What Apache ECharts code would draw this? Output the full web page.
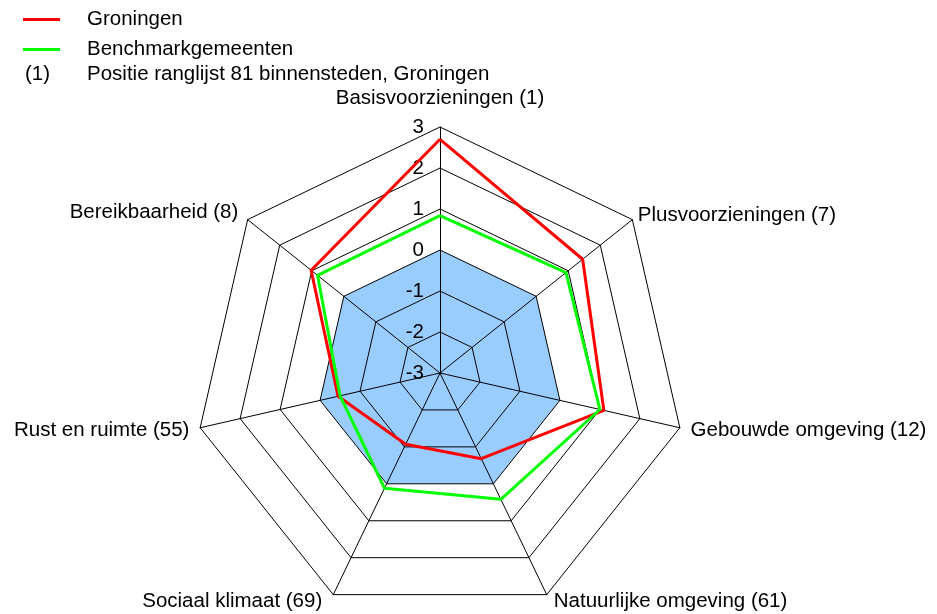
<!DOCTYPE html>
<html>
<head>
<meta charset="utf-8">
<script src="https://cdn.jsdelivr.net/npm/echarts@6/dist/echarts.min.js"></script>
<style>
  html, body { margin: 0; padding: 0; background: #fff; }
  #chart { width: 937px; height: 614px; }
</style>
</head>
<body>
<div id="chart"></div>
<script>
// indicators in clockwise order from the top (with ranking position)
const indicatorNames = [
  'Basisvoorzieningen (1)',
  'Plusvoorzieningen (7)',
  'Gebouwde omgeving (12)',
  'Natuurlijke omgeving (61)',
  'Sociaal klimaat (69)',
  'Rust en ruimte (55)',
  'Bereikbaarheid (8)'
];
const groningen = [2.7, 1.45, 1.1, -0.68, -1.07, -0.45, 1.02];
const benchmark = [0.84, 0.93, 1.0, 0.42, 0.12, -0.5, 0.82];
const axisMin = -3;
const axisMax = 3;
const noteText = ['(1)', 'Positie ranglijst 81 binnensteden, Groningen'];

// ECharts lays out radar indicators counter-clockwise, so keep the first and reverse the rest
const order = [0, 6, 5, 4, 3, 2, 1];
const nameGaps = [18, 7, 11, 7, 7, 11, 12];
const namePads = [0, 0, 0, [0, 0, 0, 4], [0, 8, 0, 0], 0, 0];

const font = "'Liberation Sans', Arial, sans-serif";
const fs = 20.5;

const indicator = order.map((i, k) => {
  const ind = {
    name: indicatorNames[i], min: axisMin, max: axisMax,
    nameGap: nameGaps[i],
    nameTextStyle: { padding: namePads[i] }
  };
  if (k === 0) ind.axisLabel = { show: true };
  return ind;
});

const chart = echarts.init(document.getElementById('chart'));
chart.setOption({
  animation: false,
  textStyle: { fontFamily: font },
  legend: {
    orient: 'vertical',
    left: 18,
    top: 4,
    itemWidth: 37,
    itemHeight: 3,
    itemGap: 9,
    icon: 'rect',
    textStyle: { fontSize: fs, color: '#000', fontFamily: font, padding: [0, 0, 0, 22] },
    data: ['Groningen', 'Benchmarkgemeenten']
  },
  graphic: [
    { type: 'text', left: 25, top: 64, style: { text: noteText[0], fontSize: fs, fontFamily: font, fill: '#000' } },
    { type: 'text', left: 87, top: 64, style: { text: noteText[1], fontSize: fs, fontFamily: font, fill: '#000' } }
  ],
  radar: {
    center: [440, 373],
    radius: 246,
    splitNumber: 6,
    startAngle: 90,
    shape: 'polygon',
    indicator: indicator,
    axisName: { color: '#000', fontSize: fs, fontFamily: font },
    axisLine: { lineStyle: { color: '#000', width: 1 } },
    splitLine: { lineStyle: { color: '#000', width: 1 } },
    splitArea: {
      show: true,
      areaStyle: { color: ['#99CCFF', '#99CCFF', '#99CCFF', '#fff', '#fff', '#fff'] }
    },
    axisTick: { show: false },
    axisLabel: { show: false, color: '#000', fontSize: fs, fontFamily: font, margin: 16 }
  },
  series: [{
    type: 'radar',
    symbol: 'none',
    data: [
      {
        name: 'Groningen',
        value: order.map(i => groningen[i]),
        lineStyle: { color: '#FF0000', width: 3 },
        itemStyle: { color: '#FF0000' }
      },
      {
        name: 'Benchmarkgemeenten',
        value: order.map(i => benchmark[i]),
        lineStyle: { color: '#00FF00', width: 3 },
        itemStyle: { color: '#00FF00' }
      }
    ]
  }]
});
</script>
</body>
</html>
